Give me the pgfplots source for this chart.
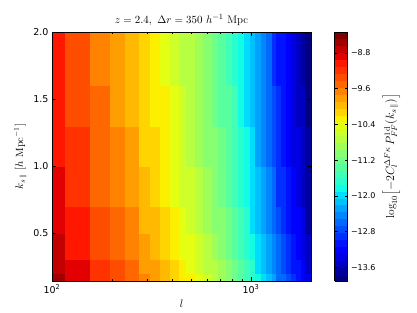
\documentclass[border=0pt]{standalone}
\usepackage{pgfplots}
\pgfplotsset{compat=1.18}
\usepackage{fontspec}
\newfontfamily\dejavu{DejaVu Sans}
\pgfplotsset{
 colormap={mpljet}{
  rgb(0pt)=(0,0,0.5);
  rgb(11pt)=(0,0,1);
  rgb(12.5pt)=(0,0,1);
  rgb(34pt)=(0,0.86,1);
  rgb(35pt)=(0,0.9,0.968);
  rgb(37.5pt)=(0.081,1,0.887);
  rgb(64pt)=(0.935,1,0.032);
  rgb(65pt)=(0.968,0.963,0);
  rgb(66pt)=(1,0.926,0);
  rgb(89pt)=(1,0.074,0);
  rgb(91pt)=(0.909,0,0);
  rgb(100pt)=(0.5,0,0)
 },
 colormap={jetd}{samples of colormap=(36 of mpljet)}
}
\begin{document}
\begin{tikzpicture}
\path[use as bounding box] (-52bp,-32bp) rectangle (365bp,281bp);
\begin{axis}[
  at={(0,0)}, anchor=south west,
  scale only axis, width=259bp, height=249bp,
  xmode=log, xmin=100, xmax=2000, ymin=0.14, ymax=2.0,
  xtick={100,1000}, xticklabels={10\textsuperscript{2},10\textsuperscript{3}},
  minor xtick={200,300,400,500,600,700,800,900,2000},
  ytick={0.5,1.0,1.5,2.0}, yticklabels={0.5,1.0,1.5,2.0},
  tick label style={font=\dejavu\fontsize{9.5}{11}\selectfont},
  major tick length=4bp, minor tick length=2bp,
  tick style={black, line width=0.5pt},
  axis line style={line width=0.7pt},
  axis on top,
  title={$z=2.4,\ \Delta r=350\ h^{-1}$ Mpc},
  title style={font=\fontsize{11}{13}\selectfont, yshift=-3bp},
  xlabel={$l$}, ylabel={$k_{s\,\parallel}\ [h\ \mathrm{Mpc}^{-1}]$},
  label style={font=\fontsize{10.5}{12}\selectfont},
  colormap name=jetd, colormap access=piecewise constant,
  point meta min=-13.91, point meta max=-8.33,
  colorbar,
  colorbar style={
    at={(parent axis.north east)}, anchor=north west, xshift=15bp,
    width=13bp,
    ytick={-13.6,-12.8,-12.0,-11.2,-10.4,-9.6,-8.8},
    yticklabels={−13.6,−12.8,−12.0,−11.2,−10.4,−9.6,−8.8},
    yticklabel style={font=\dejavu\fontsize{8}{9}\selectfont},
    major tick length=3bp,
    ylabel={$\log_{10}\!\left[-2C_l^{\Delta F\kappa}\,P_{FF}^{\mathrm{1d}}(k_{s\,\parallel})\right]$},
    ylabel style={font=\fontsize{11.5}{13}\selectfont},
  },
]
\addplot[surf, shader=flat corner, mesh/ordering=x varies, mesh/cols=32, point meta=\thisrow{v}] table[x=x, y=y] {
x y v
100 0.14 -8.60
117 0.14 -8.86
156 0.14 -9.12
195 0.14 -9.31
234 0.14 -9.49
275 0.14 -9.69
312 0.14 -9.78
351 0.14 -9.90
393 0.14 -10.06
437 0.14 -10.20
473 0.14 -10.33
524 0.14 -10.47
575 0.14 -10.61
637 0.14 -10.74
684 0.14 -10.88
750 0.14 -11.01
802 0.14 -11.16
862 0.14 -11.35
922 0.14 -11.51
990 0.14 -11.67
1047 0.14 -11.85
1122 0.14 -12.03
1188 0.14 -12.20
1271 0.14 -12.36
1334 0.14 -12.52
1413 0.14 -12.63
1496 0.14 -12.80
1585 0.14 -12.95
1679 0.14 -13.05
1778 0.14 -13.15
1862 0.14 -13.38
2000 0.14 -13.38
100 0.2 -8.67
117 0.2 -8.93
156 0.2 -9.19
195 0.2 -9.38
234 0.2 -9.56
275 0.2 -9.76
312 0.2 -9.85
351 0.2 -9.97
393 0.2 -10.13
437 0.2 -10.27
473 0.2 -10.40
524 0.2 -10.54
575 0.2 -10.68
637 0.2 -10.81
684 0.2 -10.95
750 0.2 -11.08
802 0.2 -11.23
862 0.2 -11.42
922 0.2 -11.58
990 0.2 -11.74
1047 0.2 -11.92
1122 0.2 -12.10
1188 0.2 -12.27
1271 0.2 -12.43
1334 0.2 -12.59
1413 0.2 -12.70
1496 0.2 -12.87
1585 0.2 -13.02
1679 0.2 -13.12
1778 0.2 -13.22
1862 0.2 -13.45
2000 0.2 -13.45
100 0.3 -8.75
117 0.3 -9.01
156 0.3 -9.27
195 0.3 -9.46
234 0.3 -9.64
275 0.3 -9.84
312 0.3 -9.93
351 0.3 -10.05
393 0.3 -10.21
437 0.3 -10.35
473 0.3 -10.48
524 0.3 -10.62
575 0.3 -10.76
637 0.3 -10.89
684 0.3 -11.03
750 0.3 -11.16
802 0.3 -11.31
862 0.3 -11.50
922 0.3 -11.66
990 0.3 -11.82
1047 0.3 -12.00
1122 0.3 -12.18
1188 0.3 -12.35
1271 0.3 -12.51
1334 0.3 -12.67
1413 0.3 -12.78
1496 0.3 -12.95
1585 0.3 -13.10
1679 0.3 -13.20
1778 0.3 -13.30
1862 0.3 -13.53
2000 0.3 -13.53
100 0.5 -8.83
117 0.5 -9.09
156 0.5 -9.35
195 0.5 -9.54
234 0.5 -9.72
275 0.5 -9.92
312 0.5 -10.01
351 0.5 -10.13
393 0.5 -10.29
437 0.5 -10.43
473 0.5 -10.56
524 0.5 -10.70
575 0.5 -10.84
637 0.5 -10.97
684 0.5 -11.11
750 0.5 -11.24
802 0.5 -11.39
862 0.5 -11.58
922 0.5 -11.74
990 0.5 -11.90
1047 0.5 -12.08
1122 0.5 -12.26
1188 0.5 -12.43
1271 0.5 -12.59
1334 0.5 -12.75
1413 0.5 -12.86
1496 0.5 -13.03
1585 0.5 -13.18
1679 0.5 -13.28
1778 0.5 -13.38
1862 0.5 -13.61
2000 0.5 -13.61
100 0.7 -8.91
117 0.7 -9.17
156 0.7 -9.43
195 0.7 -9.62
234 0.7 -9.80
275 0.7 -10.00
312 0.7 -10.09
351 0.7 -10.21
393 0.7 -10.37
437 0.7 -10.51
473 0.7 -10.64
524 0.7 -10.78
575 0.7 -10.92
637 0.7 -11.05
684 0.7 -11.19
750 0.7 -11.32
802 0.7 -11.47
862 0.7 -11.66
922 0.7 -11.82
990 0.7 -11.98
1047 0.7 -12.16
1122 0.7 -12.34
1188 0.7 -12.51
1271 0.7 -12.67
1334 0.7 -12.83
1413 0.7 -12.94
1496 0.7 -13.11
1585 0.7 -13.26
1679 0.7 -13.36
1778 0.7 -13.46
1862 0.7 -13.69
2000 0.7 -13.69
100 1.0 -8.97
117 1.0 -9.23
156 1.0 -9.49
195 1.0 -9.68
234 1.0 -9.86
275 1.0 -10.06
312 1.0 -10.15
351 1.0 -10.27
393 1.0 -10.43
437 1.0 -10.57
473 1.0 -10.70
524 1.0 -10.84
575 1.0 -10.98
637 1.0 -11.11
684 1.0 -11.25
750 1.0 -11.38
802 1.0 -11.53
862 1.0 -11.72
922 1.0 -11.88
990 1.0 -12.04
1047 1.0 -12.22
1122 1.0 -12.40
1188 1.0 -12.57
1271 1.0 -12.73
1334 1.0 -12.89
1413 1.0 -13.00
1496 1.0 -13.17
1585 1.0 -13.32
1679 1.0 -13.42
1778 1.0 -13.52
1862 1.0 -13.75
2000 1.0 -13.75
100 1.3 -9.02
117 1.3 -9.28
156 1.3 -9.54
195 1.3 -9.73
234 1.3 -9.91
275 1.3 -10.11
312 1.3 -10.20
351 1.3 -10.32
393 1.3 -10.48
437 1.3 -10.62
473 1.3 -10.75
524 1.3 -10.89
575 1.3 -11.03
637 1.3 -11.16
684 1.3 -11.30
750 1.3 -11.43
802 1.3 -11.58
862 1.3 -11.77
922 1.3 -11.93
990 1.3 -12.09
1047 1.3 -12.27
1122 1.3 -12.45
1188 1.3 -12.62
1271 1.3 -12.78
1334 1.3 -12.94
1413 1.3 -13.05
1496 1.3 -13.22
1585 1.3 -13.37
1679 1.3 -13.47
1778 1.3 -13.57
1862 1.3 -13.80
2000 1.3 -13.80
100 1.6 -9.07
117 1.6 -9.33
156 1.6 -9.59
195 1.6 -9.78
234 1.6 -9.96
275 1.6 -10.16
312 1.6 -10.25
351 1.6 -10.37
393 1.6 -10.53
437 1.6 -10.67
473 1.6 -10.80
524 1.6 -10.94
575 1.6 -11.08
637 1.6 -11.21
684 1.6 -11.35
750 1.6 -11.48
802 1.6 -11.63
862 1.6 -11.82
922 1.6 -11.98
990 1.6 -12.14
1047 1.6 -12.32
1122 1.6 -12.50
1188 1.6 -12.67
1271 1.6 -12.83
1334 1.6 -12.99
1413 1.6 -13.10
1496 1.6 -13.27
1585 1.6 -13.42
1679 1.6 -13.52
1778 1.6 -13.62
1862 1.6 -13.85
2000 1.6 -13.85
100 2.0 -9.07
117 2.0 -9.33
156 2.0 -9.59
195 2.0 -9.78
234 2.0 -9.96
275 2.0 -10.16
312 2.0 -10.25
351 2.0 -10.37
393 2.0 -10.53
437 2.0 -10.67
473 2.0 -10.80
524 2.0 -10.94
575 2.0 -11.08
637 2.0 -11.21
684 2.0 -11.35
750 2.0 -11.48
802 2.0 -11.63
862 2.0 -11.82
922 2.0 -11.98
990 2.0 -12.14
1047 2.0 -12.32
1122 2.0 -12.50
1188 2.0 -12.67
1271 2.0 -12.83
1334 2.0 -12.99
1413 2.0 -13.10
1496 2.0 -13.27
1585 2.0 -13.42
1679 2.0 -13.52
1778 2.0 -13.62
1862 2.0 -13.85
2000 2.0 -13.85
};
\end{axis}
\end{tikzpicture}
\end{document}
